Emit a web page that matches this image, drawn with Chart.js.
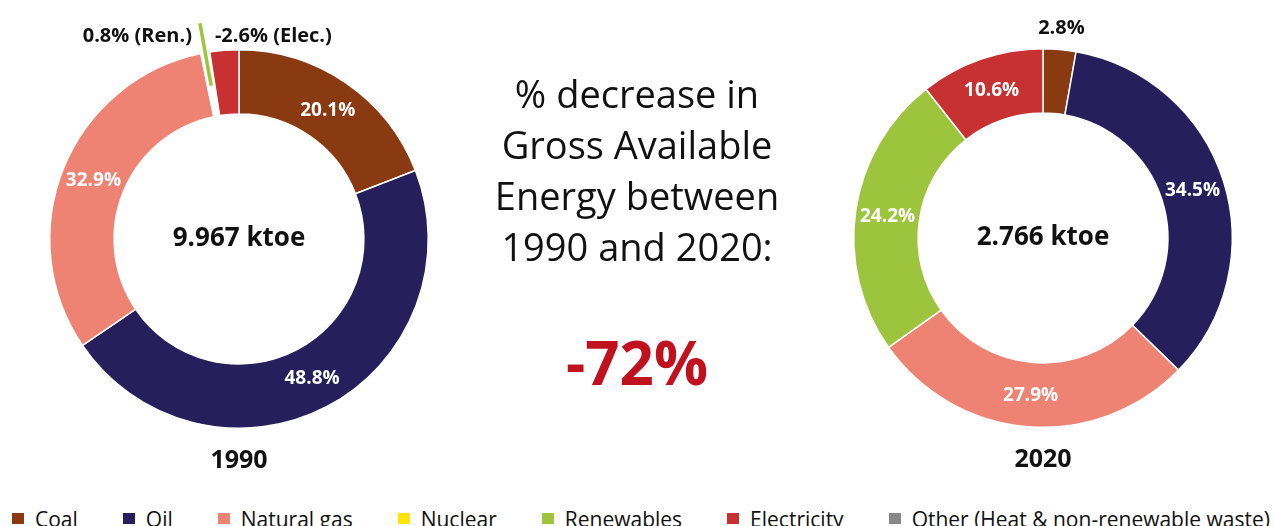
<!DOCTYPE html>
<html>
<head>
<meta charset="utf-8">
<script src="https://cdn.jsdelivr.net/npm/chart.js@4.4.0/dist/chart.umd.min.js"></script>
<style>
  html, body { margin:0; padding:0; background:#fff; width:1274px; height:526px; overflow:hidden; font-family:'Open Sans', sans-serif; }
  #c1wrap { position:absolute; left:0; top:0; width:480px; height:480px; }
  #c2wrap { position:absolute; left:804px; top:0; width:470px; height:480px; }
  #mid { position:absolute; left:437px; width:400px; top:68px; text-align:center; font-size:38px; line-height:51px; color:#111; }
  #big { position:absolute; left:437px; width:400px; top:332px; text-align:center; font-size:60px; line-height:60px; font-weight:700; color:#c0111f; }
  #legend { position:absolute; left:12px; right:4px; top:505px; height:28px; display:flex; justify-content:space-between; font-size:21px; line-height:28px; color:#111; white-space:nowrap; }
  #legend .mk { display:inline-block; width:12px; height:11px; margin-right:11px; margin-bottom:3px; vertical-align:baseline; }
</style>
</head>
<body>
<div id="c1wrap"><canvas id="c1" width="480" height="480"></canvas></div>
<div id="c2wrap"><canvas id="c2" width="470" height="480"></canvas></div>
<div id="mid">% decrease in<br>Gross Available<br>Energy between<br>1990 and 2020:</div>
<div id="big">-72%</div>
<div id="legend"></div>
<script>
// ---- data ----
const legendLabels = ['Coal', 'Oil', 'Natural gas', 'Nuclear', 'Renewables', 'Electricity', 'Other (Heat & non-renewable waste)'];
const legendColors = ['#8a3a10', '#271f5b', '#ee8373', '#ffe500', '#9dc43d', '#c83131', '#888888'];

const cats1990 = ['Coal', 'Oil', 'Natural gas', 'Renewables', 'Electricity'];
const values1990 = [20.1, 48.8, 32.9, 0.8, -2.6];
const tags1990 = ['', '', '', '(Ren.)', '(Elec.)'];
const total1990 = '9.967 ktoe';

const cats2020 = ['Coal', 'Oil', 'Natural gas', 'Renewables', 'Electricity'];
const values2020 = [2.8, 34.5, 27.9, 24.2, 10.6];
const total2020 = '2.766 ktoe';

const decrease = '-72%';

// ---- legend ----
const lg = document.getElementById('legend');
legendLabels.forEach((l, i) => {
  const s = document.createElement('span');
  const m = document.createElement('span');
  m.className = 'mk'; m.style.background = legendColors[i];
  s.appendChild(m); s.appendChild(document.createTextNode(l));
  lg.appendChild(s);
});
document.getElementById('big').textContent = decrease;

function colorOf(cat) { return legendColors[legendLabels.indexOf(cat)]; }

const FONT = "'Open Sans', sans-serif";

const labelPlugin = {
  id: 'sliceLabels',
  afterDatasetsDraw(chart, args, opts) {
    const ctx = chart.ctx;
    const meta = chart.getDatasetMeta(0);
    const vals = chart.data.datasets[0].rawValues;
    const a0 = meta.data[0];
    const cx = a0.x, cy = a0.y;
    ctx.save();
    ctx.textBaseline = 'alphabetic';
    meta.data.forEach((arc, i) => {
      const mode = opts.modes[i];
      const mid = (arc.startAngle + arc.endAngle) / 2;
      const txt = vals[i].toFixed(1) + '%';
      if (mode === 'in') {
        const r = (arc.innerRadius + arc.outerRadius) / 2;
        ctx.fillStyle = '#ffffff';
        ctx.font = 'bold 19px ' + FONT;
        ctx.textAlign = 'center';
        ctx.textBaseline = 'middle';
        ctx.fillText(txt, cx + r * Math.cos(mid), cy + r * Math.sin(mid) + 1);
      } else if (mode === 'out') {
        const r = arc.outerRadius + 21;
        ctx.fillStyle = '#111';
        ctx.font = 'bold 20px ' + FONT;
        ctx.textAlign = 'center';
        ctx.textBaseline = 'middle';
        ctx.fillText(txt, cx + r * Math.cos(mid), cy + r * Math.sin(mid));
      } else if (mode === 'leader') {
        const r1 = arc.innerRadius + 31, r2 = arc.outerRadius + 30;
        const x2 = cx + r2 * Math.cos(mid), y2 = cy + r2 * Math.sin(mid);
        ctx.strokeStyle = opts.leaderColor;
        ctx.lineWidth = 3.5;
        ctx.beginPath();
        ctx.moveTo(cx + r1 * Math.cos(mid), cy + r1 * Math.sin(mid));
        ctx.lineTo(x2, y2);
        ctx.stroke();
        ctx.fillStyle = '#111';
        ctx.font = 'bold 20px ' + FONT;
        ctx.textBaseline = 'alphabetic';
        ctx.textAlign = 'right';
        ctx.fillText(txt + ' ' + opts.tags[i], x2 - 8, y2 + 19);
        opts._leaderTop = {x: x2, y: y2};
      } else if (mode === 'afterLeader') {
        const lt = opts._leaderTop;
        ctx.fillStyle = '#111';
        ctx.font = 'bold 20px ' + FONT;
        ctx.textBaseline = 'alphabetic';
        ctx.textAlign = 'left';
        ctx.fillText(txt + ' ' + opts.tags[i], lt.x + 15, lt.y + 19);
      }
    });
    // centre total
    ctx.fillStyle = '#111';
    ctx.textAlign = 'center';
    ctx.textBaseline = 'middle';
    ctx.font = 'bold 26px ' + FONT;
    ctx.fillText(opts.center, cx, cy);
    // year
    ctx.font = 'bold 25px ' + FONT;
    ctx.textBaseline = 'alphabetic';
    ctx.fillText(opts.year, cx, cy + a0.outerRadius + 40);
    ctx.restore();
  }
};

function makeDonut(id, cats, values, colors, padding, pluginOpts) {
  return new Chart(document.getElementById(id), {
    type: 'doughnut',
    data: {
      labels: cats,
      datasets: [{
        data: values.map(v => Math.abs(v)),
        rawValues: values,
        backgroundColor: colors,
        borderColor: '#ffffff',
        borderWidth: 1.5
      }]
    },
    options: {
      responsive: false,
      animation: false,
      cutout: '66%',
      layout: { padding: padding },
      plugins: { legend: { display: false }, tooltip: { enabled: false }, sliceLabels: pluginOpts }
    },
    plugins: [labelPlugin]
  });
}

const colors1990 = cats1990.map(c => c === 'Renewables' ? '#ffffff' : colorOf(c));
makeDonut('c1', cats1990, values1990, colors1990,
  { left: 49, top: 49, right: 51, bottom: 51 },
  { modes: ['in', 'in', 'in', 'leader', 'afterLeader'], tags: tags1990, leaderColor: colorOf('Renewables'), center: total1990, year: '1990' });

makeDonut('c2', cats2020, values2020, cats2020.map(colorOf),
  { left: 49, top: 48, right: 41, bottom: 52 },
  { modes: ['out', 'in', 'in', 'in', 'in'], tags: [], center: total2020, year: '2020' });
</script>
</body>
</html>
